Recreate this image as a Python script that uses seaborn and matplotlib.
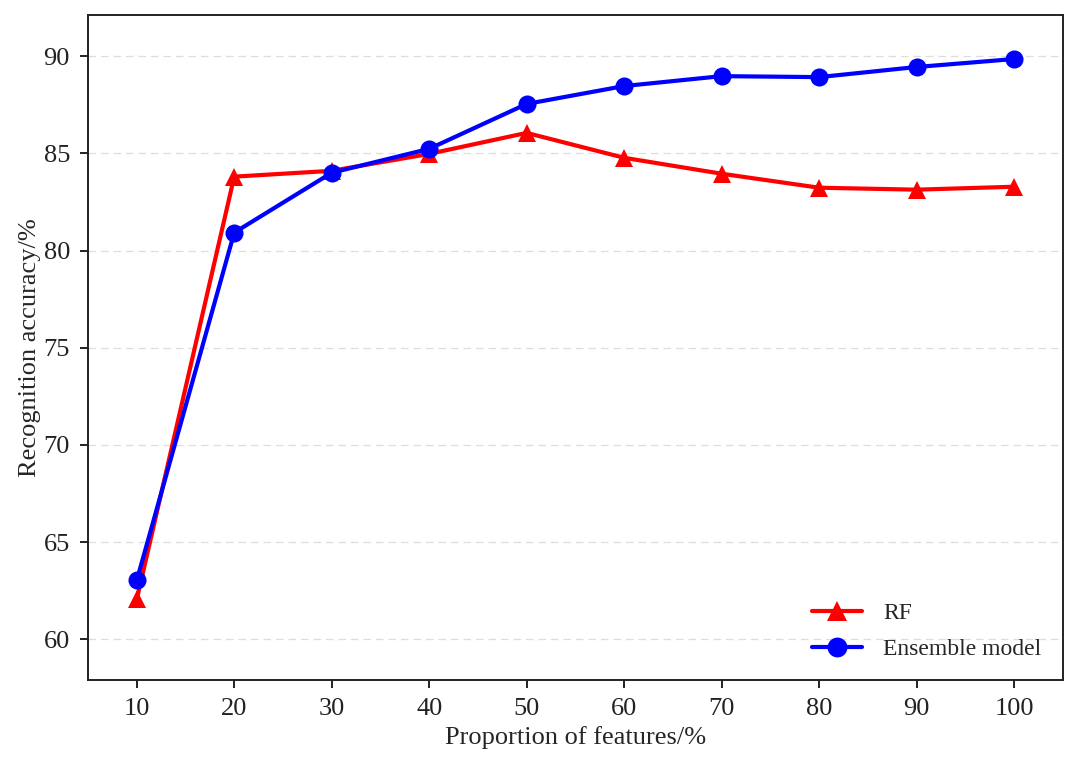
import pandas as pd
import numpy as np
import matplotlib.pyplot as plt
import seaborn as sns

# --- data ---
proportion = [10, 20, 30, 40, 50, 60, 70, 80, 90, 100]
rf_acc = [62.05, 83.8, 84.1, 84.97, 86.05, 84.77, 83.95, 83.23, 83.13, 83.28]
ensemble_acc = [63.03, 80.92, 84.0, 85.23, 87.54, 88.46, 88.97, 88.92, 89.44, 89.85]

df = pd.DataFrame({
    'Proportion': proportion * 2,
    'Accuracy': rf_acc + ensemble_acc,
    'Model': ['RF'] * len(proportion) + ['Ensemble model'] * len(proportion),
})

sns.set_style('white')
plt.rcParams['font.family'] = ['Liberation Serif', 'DejaVu Serif']

fig = plt.figure(figsize=(10.8, 7.65), dpi=100)
ax = fig.add_axes([0.0815, 0.111, 0.9025, 0.869])

sns.lineplot(data=df, x='Proportion', y='Accuracy', hue='Model', style='Model',
             palette={'RF': 'red', 'Ensemble model': 'blue'},
             markers={'RF': '^', 'Ensemble model': 'o'}, dashes=False,
             linewidth=3, markersize=13, markeredgewidth=0, ax=ax)

ax.set_xlim(5, 105)
ax.set_ylim(57.9, 92.1)
ax.set_xticks(proportion)
ax.set_yticks([60, 65, 70, 75, 80, 85, 90])
ax.tick_params(axis='both', labelsize=19, direction='out', length=6, width=1.4,
               pad=7, bottom=True, left=True, colors='#222222')
ax.set_xlabel('Proportion of features/%', fontsize=19, labelpad=4)
ax.set_ylabel('Recognition accuracy/%', fontsize=19, labelpad=2)
ax.yaxis.grid(True, linestyle=(0, (6, 4)), color='#dddddd', linewidth=0.9)
ax.xaxis.grid(False)
for s in ax.spines.values():
    s.set_color('#222222')
    s.set_linewidth(1.4)

ax.legend(title=None, loc='lower right', frameon=False, fontsize=17,
          handlelength=2.1, handletextpad=0.9, markerscale=1.1,
          labelspacing=0.6, bbox_to_anchor=(1.0, -0.002))

fig.savefig('out.png', dpi=100)
